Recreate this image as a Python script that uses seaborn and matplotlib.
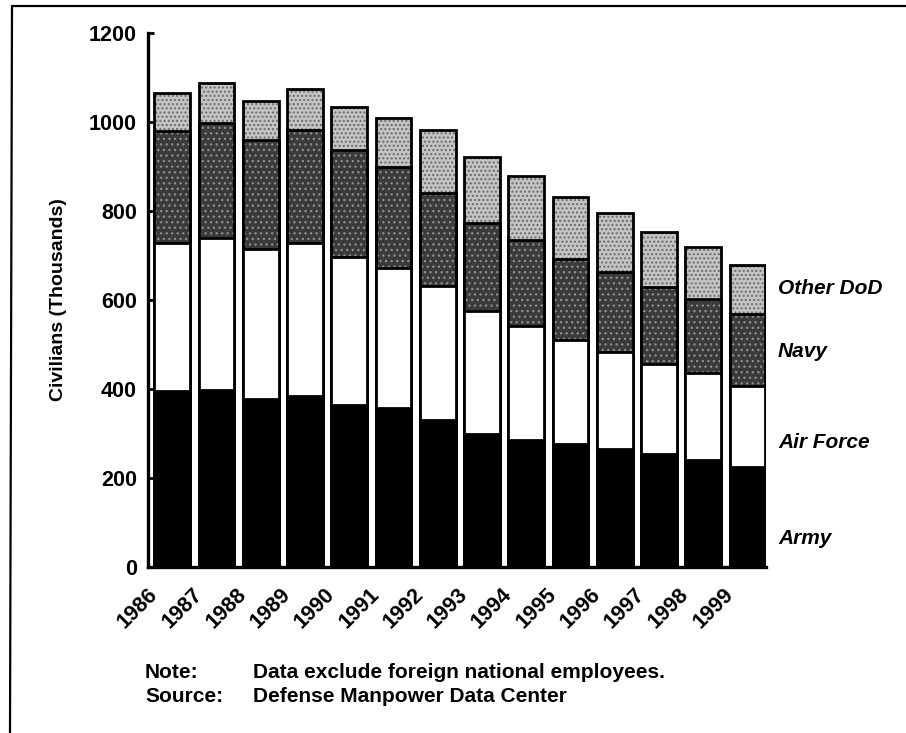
import numpy as np
import pandas as pd
import matplotlib
matplotlib.use("Agg")
import matplotlib.pyplot as plt
import matplotlib.transforms as mtransforms
from matplotlib.lines import Line2D
import seaborn as sns

years = ["1986", "1987", "1988", "1989", "1990", "1991", "1992",
         "1993", "1994", "1995", "1996", "1997", "1998", "1999"]
army = [395, 398, 377, 384, 365, 357, 331, 298, 286, 277, 266, 254, 240, 224]
air_force = [334, 342, 337, 344, 331, 316, 300, 278, 255, 233, 217, 202, 195, 183]
navy = [251, 258, 245, 253, 242, 226, 209, 196, 193, 183, 180, 173, 168, 162]
other_dod = [86, 89, 89, 93, 96, 111, 141, 150, 144, 138, 133, 123, 117, 109]
series_names = ["Army", "Air Force", "Navy", "Other DoD"]
y_ticks = [0, 200, 400, 600, 800, 1000, 1200]

sns.set_theme(style="white")
plt.rcParams['font.family'] = ['Liberation Sans', 'DejaVu Sans']
plt.rcParams['hatch.linewidth'] = 1.0
for k in ["text.color", "axes.labelcolor", "xtick.color", "ytick.color"]:
    plt.rcParams[k] = "black"

df = pd.DataFrame({"Year": years, "Army": army, "Air Force": air_force,
                   "Navy": navy, "Other DoD": other_dod})
cum = df[series_names].cumsum(axis=1)

fig = plt.figure(figsize=(9.06, 7.33), dpi=100)
ax = fig.add_axes([148/906, 1-567/733, (766-148)/906, (567-33)/733])

styles = {
    "Other DoD": dict(color="#c4c4c4", hatch="....", hc="#6a6a6a"),
    "Navy": dict(color="#3a3a3a", hatch="...", hc="#8a8a8a"),
    "Air Force": dict(color="white", hatch=None, hc="black"),
    "Army": dict(color="black", hatch=None, hc="black"),
}

n = len(years)
for name in reversed(series_names):
    st = styles[name]
    sns.barplot(x=df["Year"], y=cum[name], ax=ax, color=st["color"],
                saturation=1, width=0.81, edgecolor="black", linewidth=2.0)
    for p in ax.patches[-n:]:
        p.set_facecolor(st["color"])
        if st["hatch"]:
            p.set_hatch(st["hatch"])
            p._hatch_color = matplotlib.colors.to_rgba(st["hc"])

ax.set_xlim(-0.55, n - 1 + 0.42)
ax.set_ylim(0, 1200)
ax.set_yticks(y_ticks)
ax.set_yticklabels([str(v) for v in y_ticks], fontsize=15.5, fontweight="bold")
ax.set_xlabel("")
ax.set_ylabel("Civilians (Thousands)", fontsize=14, fontweight="bold", labelpad=16)
ax.tick_params(axis="y", direction="in", length=4, width=2, pad=8, left=True)
ax.tick_params(axis="x", length=0, pad=12)
ax.set_xticks(range(n))
ax.set_xticklabels(years, rotation=45, ha="right", va="top",
                   fontsize=15.5, fontweight="bold")
offset = mtransforms.ScaledTranslation(-10/100, 0, fig.dpi_scale_trans)
for lab in ax.get_xticklabels():
    lab.set_transform(lab.get_transform() + offset)

for s in ["top", "right"]:
    ax.spines[s].set_visible(False)
for s in ["left", "bottom"]:
    ax.spines[s].set_linewidth(2.4)
    ax.spines[s].set_color("black")

label_y = {"Other DoD": 626, "Navy": 485, "Air Force": 280, "Army": 65}
lab_tr = mtransforms.blended_transform_factory(fig.transFigure, ax.transData)
for name in series_names:
    ax.text(778/906, label_y[name], name, transform=lab_tr,
            fontsize=15, fontweight="bold", fontstyle="italic", va="center", ha="left")

fs_note = 15
fig.text(145/906, 1-672/733, "Note:", fontsize=fs_note, fontweight="bold", va="center")
fig.text(253/906, 1-672/733, "Data exclude foreign national employees.", fontsize=fs_note, fontweight="bold", va="center")
fig.text(145/906, 1-697/733, "Source:", fontsize=fs_note, fontweight="bold", va="center")
fig.text(253/906, 1-697/733, "Defense Manpower Data Center", fontsize=fs_note, fontweight="bold", va="center")

fig.add_artist(Line2D([12/906, 1.0], [1-6/733, 1-6/733], color="black", lw=1.6, transform=fig.transFigure))
fig.add_artist(Line2D([12/906, 10/906], [1-6/733, 0.0], color="black", lw=1.6, transform=fig.transFigure))

fig.savefig("out.png", dpi=100)
